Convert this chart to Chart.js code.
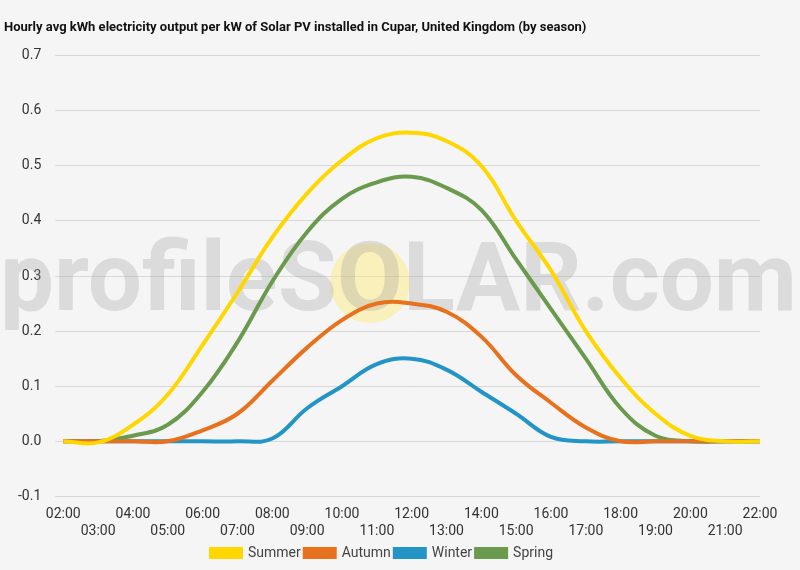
<!DOCTYPE html>
<html><head><meta charset="utf-8">
<script src="https://cdn.jsdelivr.net/npm/chart.js@4"></script>
<style>html,body{margin:0;background:#f5f5f5;}#w{width:800px;height:570px;}</style>
</head><body><div id="w"><canvas id="c"></canvas></div>
<script>
const hours=['02:00','03:00','04:00','05:00','06:00','07:00','08:00','09:00','10:00','11:00','12:00','13:00','14:00','15:00','16:00','17:00','18:00','19:00','20:00','21:00','22:00'];
const summer=[0,-0.002,0.03,0.085,0.175,0.27,0.37,0.45,0.51,0.55,0.56,0.545,0.50,0.40,0.31,0.20,0.115,0.05,0.01,0,0];
const autumn=[0,0,0,0,0.02,0.05,0.11,0.17,0.22,0.25,0.25,0.235,0.19,0.12,0.07,0.025,0,0,0,0,0];
const winter=[0,0,0,0,0,0,0.005,0.06,0.10,0.14,0.15,0.13,0.09,0.05,0.008,0,0,0,0,0,0];
const spring=[0,0,0.01,0.03,0.09,0.18,0.29,0.38,0.44,0.47,0.48,0.46,0.42,0.33,0.24,0.15,0.06,0.01,0,0,0];
const wm={id:'wm',beforeDatasetsDraw(ch){const c=ch.ctx;c.save();
c.fillStyle='rgba(255,235,120,0.45)';c.beginPath();c.arc(370,283,40,0,Math.PI*2);c.fill();
c.font='bold 96px Roboto';c.fillStyle='rgba(150,150,150,0.28)';c.textBaseline='middle';c.fillText('profileSOLAR.com',0,286);c.restore();}};
const mk=(l,d,col)=>({label:l,data:d,borderColor:col,backgroundColor:col,borderWidth:4,pointRadius:0,tension:0.4,fill:false});
new Chart(document.getElementById('c'),{type:'line',plugins:[wm],
data:{labels:hours,datasets:[mk('Summer',summer,'#ffd700'),mk('Autumn',autumn,'#e8711d'),mk('Winter',winter,'#2394c6'),mk('Spring',spring,'#6a9a4e')]},
options:{responsive:true,maintainAspectRatio:false,animation:false,
layout:{padding:{left:4,right:40,top:12,bottom:0}},
plugins:{title:{display:true,text:'Hourly avg kWh electricity output per kW of Solar PV installed in Cupar, United Kingdom (by season)',align:'start',font:{family:'Roboto',size:13,weight:'bold'},color:'#111',padding:{top:8,bottom:20}},
legend:{position:'bottom',labels:{boxWidth:30,boxHeight:8,font:{family:'Roboto',size:14},color:'#444',padding:4}},tooltip:{enabled:false}},
scales:{x:{grid:{display:false},border:{display:false},ticks:{maxRotation:0,autoSkip:false,padding:2,font:{family:'Roboto',size:14},color:'#333',callback:(v,i)=>i%2===0?hours[i]:['',hours[i]]}},
y:{min:-0.1,max:0.7,border:{display:false},grid:{color:'#d8d8d8'},ticks:{stepSize:0.1,font:{family:'Roboto',size:14},color:'#333',padding:14,callback:v=>(Math.abs(v)<1e-9?0:v).toFixed(1)}}}}});
</script></body></html>
